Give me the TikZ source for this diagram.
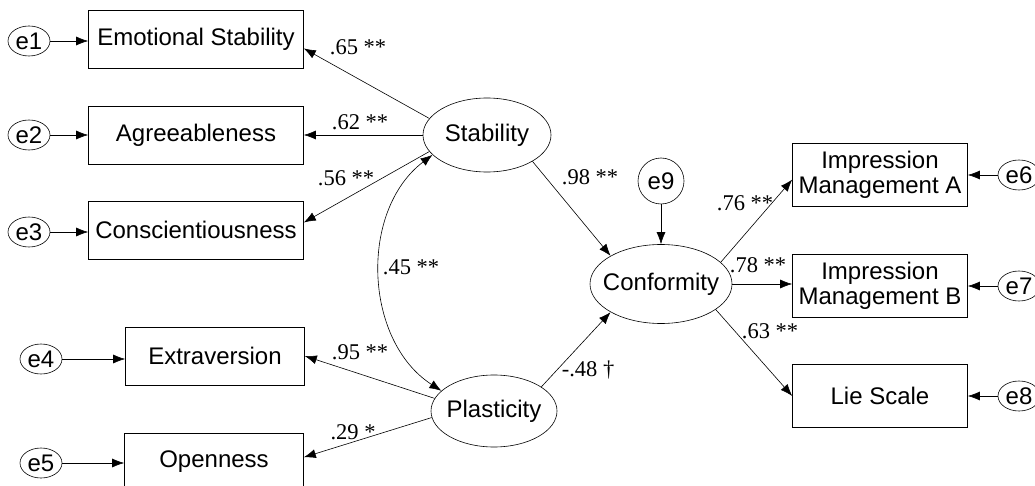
\documentclass[tikz,border=0pt]{standalone}
\usepackage{fontspec}
\setmainfont{Liberation Sans}
\newfontfamily\coeffont{Liberation Serif}
\usetikzlibrary{arrows.meta,shapes.geometric}

\begin{document}
\begin{tikzpicture}[x=1pt,y=-1pt,
  box/.style={draw,line width=0.6pt,inner sep=0pt,minimum width=215pt,minimum height=58pt,align=center,font=\fontsize{24}{25}\selectfont},
  lat/.style={draw,ellipse,line width=0.6pt,inner xsep=-20pt,inner ysep=0pt,font=\fontsize{24}{25}\selectfont},
  err/.style={draw,ellipse,line width=0.6pt,inner xsep=0pt,inner ysep=-4pt,minimum width=42pt,minimum height=30pt,font=\fontsize{24}{25}\selectfont},
  coef/.style={inner sep=0pt,font=\coeffont\fontsize{22.5}{24}\selectfont},
  arr/.style={-{Latex[length=12pt,width=9pt]},line width=0.6pt},
  dbl/.style={{Latex[length=12pt,width=9pt]}-{Latex[length=12pt,width=9pt]},line width=0.6pt}]
\useasboundingbox (0,0) rectangle (1035,486);

% observed variables
\node (b1) at (196,39) [box] {Emotional Stability};
\node (b2) at (196,135) [box] {Agreeableness};
\node (b3) at (196,230) [box] {Conscientiousness};
\node (b4) at (215,356) [box,minimum width=179pt] {Extraversion};
\node (b5) at (214,462) [box,minimum width=179pt] {Openness};
\node (b6) at (880,175) [box,minimum width=175pt,minimum height=63pt] {Impression\\Management A};
\node (b7) at (880,286) [box,minimum width=175pt,minimum height=63pt] {Impression\\Management B};
\node (b8) at (880,396) [box,minimum width=175pt,minimum height=63pt] {Lie Scale};

% latent variables
\node (stab) at (487,135) [lat,minimum width=128pt,minimum height=74pt] {Stability};
\node (plast) at (494,411) [lat,minimum width=126pt,minimum height=72pt] {Plasticity};
\node (conf) at (661,284) [lat,minimum width=142pt,minimum height=79pt] {Conformity};

% errors
\node (e1) at (29,41) [err] {e1};
\node (e2) at (29,135) [err] {e2};
\node (e3) at (29,232) [err] {e3};
\node (e4) at (41,359) [err] {e4};
\node (e5) at (41,463) [err] {e5};
\node (e6) at (1019,175) [err] {e6};
\node (e7) at (1019,286) [err] {e7};
\node (e8) at (1019,396) [err] {e8};
\node (e9) at (661,181) [err,minimum width=46pt,minimum height=46pt] {e9};

\draw[arr] (e1) -- (e1 -| b1.west);
\draw[arr] (e2) -- (e2 -| b2.west);
\draw[arr] (e3) -- (e3 -| b3.west);
\draw[arr] (e4) -- (e4 -| b4.west);
\draw[arr] (e5) -- (e5 -| b5.west);
\draw[arr] (e6) -- (e6 -| b6.east);
\draw[arr] (e7) -- (e7 -| b7.east);
\draw[arr] (e8) -- (e8 -| b8.east);
\draw[arr] (e9) -- (conf);

% loadings
\draw[arr] (stab.164) -- (b1.-5);
\draw[arr] (stab.west) -- (b2.east);
\draw[arr] (stab.196) -- (b3.4);
\draw[arr] (plast.168) -- (b4.east);
\draw[arr] (plast.186) -- (b5.3);
\draw[arr] (conf.20) -- (b6.183);
\draw[arr] (conf.east) -- (conf.east -| b7.west);
\draw[arr] (conf.-25) -- (b8.west);

\draw[arr] (stab.south east) -- (conf.north west);
\draw[arr] (plast.27) -- (conf.south west);
\draw[dbl] (stab.200) to[bend right=55] (plast.159);

% coefficients
\node (c1) at (358,47) [coef] {.65 **};
\node (c2) at (360,122) [coef] {.62 **};
\node (c3) at (346,178) [coef] {.56 **};
\node (c4) at (411,267) [coef] {.45 **};
\node (c5) at (360,352) [coef] {.95 **};
\node (c6) at (353,432) [coef] {.29 *};
\node (c7) at (590,177) [coef] {.98 **};
\node (c8) at (588,370) [coef] {-.48 †};
\node (c9) at (745,203) [coef] {.76 **};
\node (c10) at (758,265) [coef] {.78 **};
\node (c11) at (770,331) [coef] {.63 **};

\end{tikzpicture}
\end{document}
